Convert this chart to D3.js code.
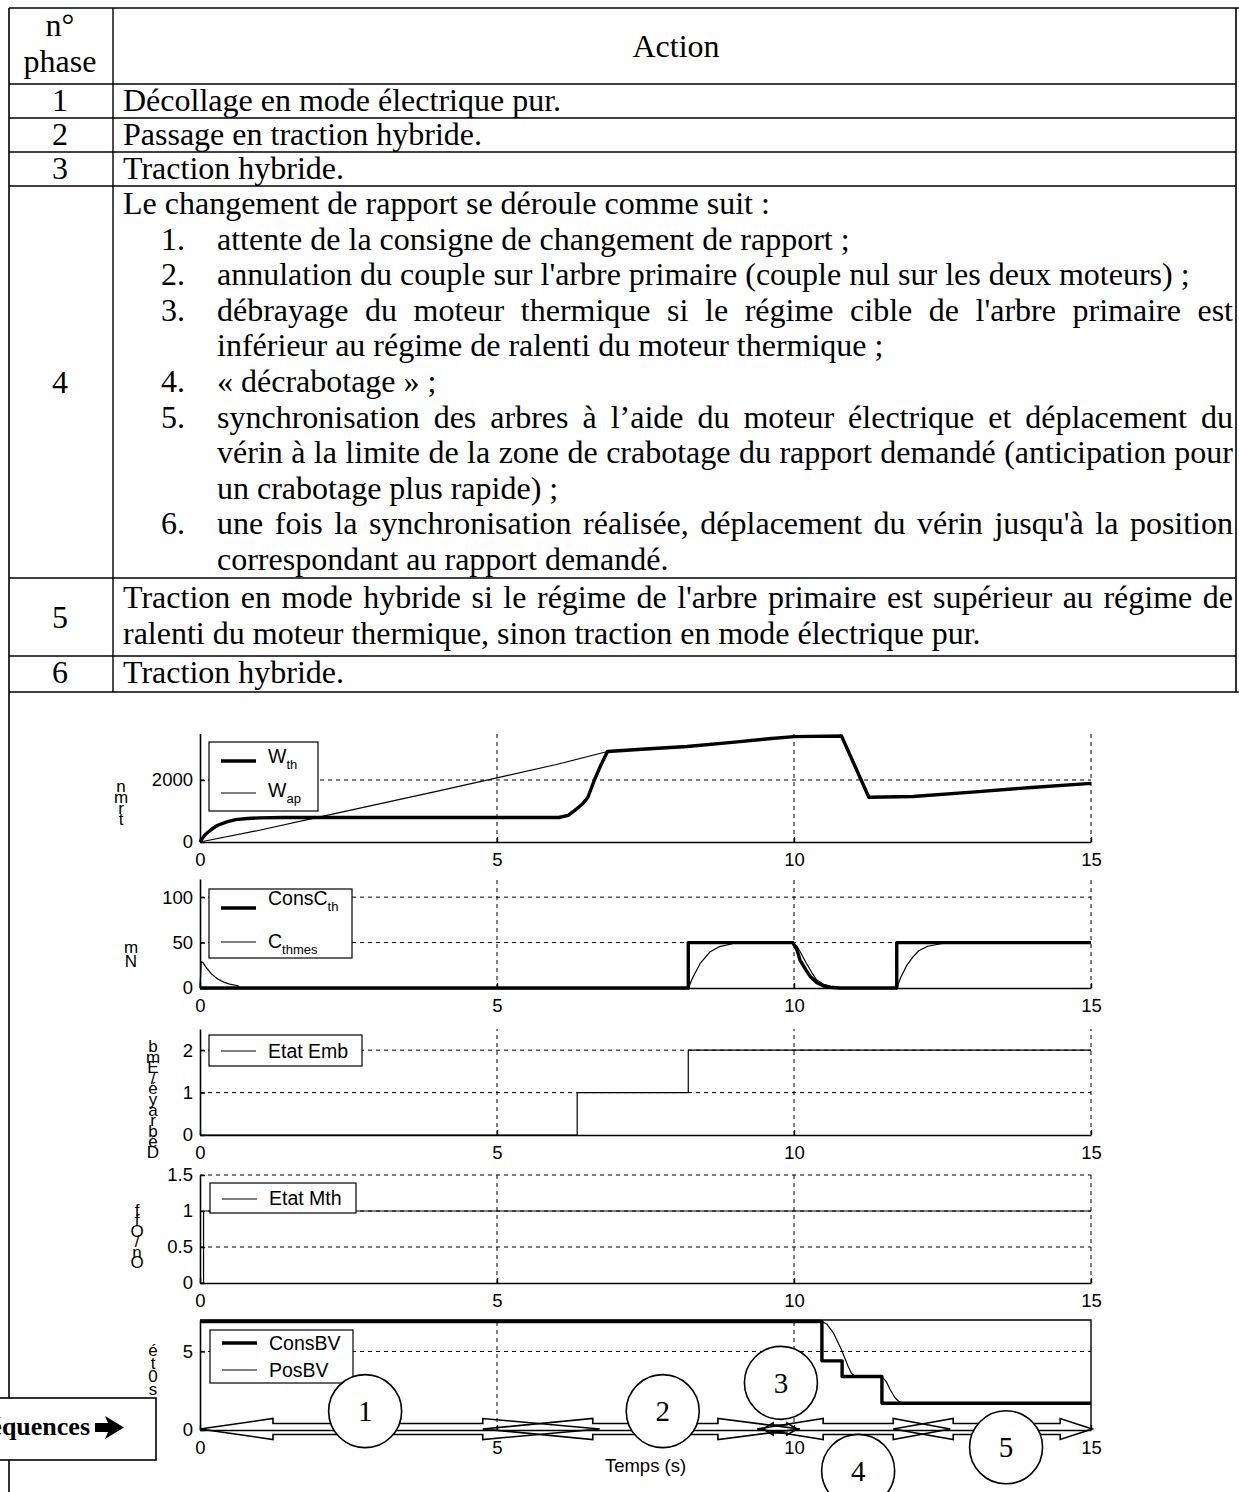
<!DOCTYPE html>
<html><head><meta charset="utf-8">
<script src="https://cdn.jsdelivr.net/npm/d3@7"></script>
<style>body{margin:0;background:#fff}svg{display:block}</style>
</head><body>
<svg id="c" width="1239" height="1492"></svg>
<script>
// ---------------- DATA ----------------
const headerPhase = ["n°", "phase"];
const headerAction = "Action";
const phaseNumbers = ["1", "2", "3", "4", "5", "6"];
const row1 = ["Décollage en mode électrique pur."];
const row2 = ["Passage en traction hybride."];
const row3 = ["Traction hybride."];
const row4Intro = "Le changement de rapport se déroule comme suit :";
const row4Items = [
  ["1.", "attente de la consigne de changement de rapport ;", false],
  ["2.", "annulation du couple sur l'arbre primaire (couple nul sur les deux moteurs) ;", false],
  ["3.", "débrayage du moteur thermique si le régime cible de l'arbre primaire est", true],
  ["", "inférieur au régime de ralenti du moteur thermique ;", false],
  ["4.", "« décrabotage » ;", false],
  ["5.", "synchronisation des arbres à l’aide du moteur électrique et déplacement du", true],
  ["", "vérin à la limite de la zone de crabotage du rapport demandé (anticipation pour", true],
  ["", "un crabotage plus rapide) ;", false],
  ["6.", "une fois la synchronisation réalisée, déplacement du vérin jusqu'à la position", true],
  ["", "correspondant au rapport demandé.", false]
];
const row5 = [
  ["Traction en mode hybride si le régime de l'arbre primaire est supérieur au régime de", true],
  ["ralenti du moteur thermique, sinon traction en mode électrique pur.", false]
];
const row6 = ["Traction hybride."];

const timeTicks = [0, 5, 10, 15];
const xLabel = "Temps (s)";

// Panel 1 : speeds
const W_th = [[0,0],[0.05,150],[0.1,260],[0.2,420],[0.3,540],[0.45,650],[0.6,720],[0.8,760],[1.0,778],[1.4,788],[2,790],[6.04,790],[6.2,860],[6.33,1050],[6.45,1250],[6.53,1444],[6.64,2000],[6.74,2444],[6.86,2920],[7.5,3000],[8.2,3080],[9,3220],[9.57,3330],[10,3400],[10.8,3420],[11.26,1444],[12,1467],[13,1610],[14,1760],[15,1890]];
const W_ap = [[0,0],[1,380],[2,800],[3,1220],[4,1640],[5,2070],[6,2500],[6.86,2920],[7.5,3000],[8.2,3080],[9,3220],[9.57,3330],[10,3400],[10.8,3420],[11.26,1444],[12,1467],[13,1610],[14,1760],[15,1890]];
const p1Ticks = [0, 2000];
const p1Legend = [["W","th"],["W","ap"]];

// Panel 2 : torques
const ConsC_th = [[0,0],[8.22,0],[8.22,50],[9.98,50],[10.05,42],[10.1,31],[10.2,20],[10.27,13],[10.38,6],[10.49,2.5],[10.6,0.8],[10.77,0],[11.73,0],[11.73,50],[15,50]];
const C_thmes = [[0,0],[0.02,29],[0.05,28],[0.1,23],[0.2,15],[0.3,10],[0.4,6.5],[0.5,4.2],[0.64,2.5],[0.66,0],[8.22,0],[8.3,12],[8.42,27],[8.59,40],[8.75,45.6],[8.98,49],[9.2,50],[9.98,50],[10.05,46],[10.12,38],[10.21,27],[10.3,17],[10.38,9],[10.5,4],[10.66,1],[10.8,0],[11.73,0],[11.8,12],[11.9,25],[12.0,34],[12.1,41],[12.25,46],[12.5,49],[12.8,50],[15,50]];
const p2Ticks = [0, 50, 100];
const p2Legend = [["ConsC","th"],["C","thmes"]];

// Panel 3 : clutch state
const EtatEmb = [[0,0],[6.35,0],[6.35,1],[8.22,1],[8.22,2],[15,2]];
const p3Ticks = [0, 1, 2];
const p3Legend = [["Etat Emb",""]];

// Panel 4 : engine state
const EtatMth = [[0,0],[0.06,0],[0.06,1],[15,1]];
const p4Ticks = [0, 0.5, 1, 1.5];
const p4Legend = [["Etat Mth",""]];

// Panel 5 : gearbox
const ConsBV = [[0,6.9],[10.47,6.9],[10.47,4.4],[10.81,4.4],[10.81,3.4],[11.48,3.4],[11.48,1.7],[15,1.7]];
const PosBV = [[0,6.9],[10.47,6.9],[10.55,6.75],[10.66,6.2],[10.8,5.1],[10.91,4.06],[10.97,3.6],[11.02,3.42],[11.48,3.4],[11.55,3.1],[11.62,2.56],[11.7,2.05],[11.76,1.83],[11.81,1.74],[11.9,1.7],[15,1.7]];
const p5Ticks = [0, 5];
const p5Legend = [["ConsBV",""],["PosBV",""]];

// garbled (rotated) y labels, glyphs top -> bottom
const yLabelGlyphs = [
  ["n","m","r","t"],
  ["m","N"],
  ["b","m","E","/","é","y","a","r","b","é","D"],
  ["f","f","O","/","n","O"],
  ["é","t","0","s"]
];

// sequence phases
const seqLabels = ["1","2","3","4","5"];
const seqSpans = [[0,6.73],[4.76,10.1],[9.48,10.05],[9.38,12.63],[11.67,15.02]];
const seqCircleAt = [[2.78,1.2],[7.79,1.2],[9.78,3.0],[11.08,-2.6],[13.57,-1.1]];
const seqBoxLabel = "Séquences";

// ---------------- DRAW ----------------
const svg = d3.select("#c");
const serif = "'Liberation Serif','Times New Roman',serif";
const sans = "'Liberation Sans',Arial,sans-serif";

// ---- table ----
const tbl = svg.append("g").attr("font-family", serif).attr("font-size", 32).attr("fill", "#000");
const L = 9, R = 1236, colDiv = 113, tx = 123, tRight = 1233;
const rowLines = [8, 84, 118, 152, 186, 578, 656, 692];
rowLines.forEach(y => tbl.append("line").attr("x1", L).attr("x2", y === 692 || y === 8 ? 1239 : R)
  .attr("y1", y).attr("y2", y).attr("stroke", "#000").attr("stroke-width", 1.6));
tbl.append("line").attr("x1", L).attr("x2", L).attr("y1", 8).attr("y2", 1492).attr("stroke", "#000").attr("stroke-width", 1.6);
tbl.append("line").attr("x1", colDiv).attr("x2", colDiv).attr("y1", 8).attr("y2", 692).attr("stroke", "#000").attr("stroke-width", 1.4);
tbl.append("line").attr("x1", R).attr("x2", R).attr("y1", 8).attr("y2", 692).attr("stroke", "#000").attr("stroke-width", 1.6);

function txt(g, s, x, y, anchor) {
  return g.append("text").attr("x", x).attr("y", y).attr("text-anchor", anchor || "start").text(s);
}
function justified(g, s, x0, x1, y) {
  const words = s.split(" ");
  const t = g.append("text").attr("y", y);
  const spans = words.map(w => t.append("tspan").text(w));
  const w = spans.map(sp => sp.node().getComputedTextLength());
  const gap = (x1 - x0 - d3.sum(w)) / (words.length - 1);
  let x = x0;
  spans.forEach((sp, i) => { sp.attr("x", x); x += w[i] + gap; });
}

txt(tbl, headerPhase[0], 60, 36, "middle");
txt(tbl, headerPhase[1], 60, 72, "middle");
txt(tbl, headerAction, 676, 57, "middle");

const numY = [111, 145, 179, 393, 628, 683];
phaseNumbers.forEach((n, i) => txt(tbl, n, 60, numY[i], "middle"));
txt(tbl, row1[0], tx, 111);
txt(tbl, row2[0], tx, 145);
txt(tbl, row3[0], tx, 179);

const r4Y = d3.range(11).map(k => 214 + k * 35.6);
txt(tbl, row4Intro, tx, r4Y[0]);
row4Items.forEach((it, i) => {
  const y = r4Y[i + 1];
  if (it[0]) txt(tbl, it[0], 161, y);
  if (it[2]) justified(tbl, it[1], 217, tRight, y); else txt(tbl, it[1], 217, y);
});
const r5Y = [608, 644];
row5.forEach((it, i) => { if (it[1]) justified(tbl, it[0], tx, tRight, r5Y[i]); else txt(tbl, it[0], tx, r5Y[i]); });
txt(tbl, row6[0], tx, 683);

// ---- plots ----
const x = d3.scaleLinear().domain([0, 15]).range([200, 1091]);
const panels = [
  {bottom: 842, top: 733.5, dom: [0, 3500], ticks: p1Ticks, series: [[W_ap, false], [W_th, true]],
   legend: p1Legend, lbox: [209, 742, 109, 69], lrows: [[761, 763], [793, 797]], thickRow: [true, false],
   yl: {x: 121, y0: 792, step: 11}},
  {bottom: 988, top: 879, dom: [0, 120], ticks: p2Ticks, series: [[C_thmes, false], [ConsC_th, true]],
   legend: p2Legend, lbox: [209, 889, 143, 69], lrows: [[908, 905], [942, 948]], thickRow: [true, false],
   yl: {x: 131, y0: 953, step: 14}},
  {bottom: 1135, top: 1029, dom: [0, 2.5], ticks: p3Ticks, series: [[EtatEmb, false]],
   legend: p3Legend, lbox: [209, 1035, 153, 31], lrows: [[1051, 1058]], thickRow: [false],
   yl: {x: 153, y0: 1052, step: 10.6}},
  {bottom: 1283, top: 1175, dom: [0, 1.5], ticks: p4Ticks, series: [[EtatMth, false]],
   legend: p4Legend, lbox: [210, 1183, 146, 30], lrows: [[1199, 1205]], thickRow: [false],
   yl: {x: 137, y0: 1216, step: 10.4}},
  {bottom: 1430, top: 1320, dom: [0, 7], ticks: p5Ticks, series: [[PosBV, false], [ConsBV, true]], box: true,
   legend: p5Legend, lbox: [210, 1330, 143, 53], lrows: [[1343, 1350], [1370, 1377]], thickRow: [true, false],
   yl: {x: 153, y0: 1356, step: 13}}
];

const P = svg.append("g").attr("font-family", sans);
let y5;
panels.forEach((p, pi) => {
  const g = P.append("g");
  const y = d3.scaleLinear().domain(p.dom).range([p.bottom, p.top]);
  if (pi === 4) y5 = y;
  timeTicks.filter(t => t > 0 && !(p.box && t === 15)).forEach(t =>
    g.append("line").attr("x1", x(t)).attr("x2", x(t)).attr("y1", p.bottom).attr("y2", p.top)
      .attr("stroke", "#000").attr("stroke-width", 1).attr("stroke-dasharray", "4,4"));
  p.ticks.filter(v => v > 0).forEach(v =>
    g.append("line").attr("x1", x(0)).attr("x2", x(15)).attr("y1", y(v)).attr("y2", y(v))
      .attr("stroke", "#000").attr("stroke-width", 1).attr("stroke-dasharray", "4,4"));
  if (p.box) {
    g.append("path").attr("d", `M${x(0)},${p.top}H${x(15)}V${p.bottom}`).attr("fill", "none").attr("stroke", "#000").attr("stroke-width", 1.4);
  }
  const ax = g.append("g").attr("transform", `translate(0,${p.bottom})`)
    .call(d3.axisBottom(x).tickValues(timeTicks).tickSizeInner(-5).tickSizeOuter(0).tickPadding(11));
  const ay = g.append("g").attr("transform", `translate(${x(0)},0)`)
    .call(d3.axisLeft(y).tickValues(p.ticks).tickSizeInner(-5).tickSizeOuter(0).tickPadding(7).tickFormat(d => String(d)));
  [ax, ay].forEach(a => {
    a.attr("font-family", sans).attr("font-size", 18.5);
    a.select(".domain").attr("stroke-width", 1.6);
    a.selectAll(".tick line").attr("stroke-width", 1.4);
  });
  const line = d3.line().x(d => x(d[0])).y(d => y(d[1]));
  p.series.forEach(([data, thick]) =>
    g.append("path").datum(data).attr("d", line).attr("fill", "none").attr("stroke", "#000")
      .attr("stroke-width", thick ? 3.4 : 1.2).attr("stroke-linejoin", "round"));
  const [bx, by, bw, bh] = p.lbox;
  g.append("rect").attr("x", bx).attr("y", by).attr("width", bw).attr("height", bh)
    .attr("fill", "#fff").attr("stroke", "#000").attr("stroke-width", 1.2);
  p.legend.forEach((item, i) => {
    const [ly, ty] = p.lrows[i];
    g.append("line").attr("x1", bx + 12).attr("x2", bx + 47).attr("y1", ly).attr("y2", ly)
      .attr("stroke", "#000").attr("stroke-width", p.thickRow[i] ? 3.4 : 1.2);
    const t = g.append("text").attr("x", bx + 59).attr("y", ty).attr("font-size", 19.5).text(item[0]);
    if (item[1]) t.append("tspan").attr("dy", 6).attr("font-size", 13).text(item[1]);
  });
  // garbled y label : one text, glyphs stacked
  const yt = g.append("text").attr("text-anchor", "middle").attr("font-size", 17);
  yLabelGlyphs[pi].forEach((c, k) => {
    yt.append("tspan").attr("x", p.yl.x).attr("y", p.yl.y0 + k * p.yl.step).text(c);
  });
});

P.append("text").attr("x", (x(0) + x(15)) / 2).attr("y", 1472).attr("text-anchor", "middle")
  .attr("font-size", 18.5).text(xLabel);

// sequence arrows
const arrowHeads = [[73, 117], [110, 82], [10, 10], [66, 57], [60, 32]];
const seqG = svg.append("g");
const ay0 = y5(0) - 1;
seqSpans.forEach((s, i) => {
  const x0 = x(s[0]), x1 = x(s[1]);
  const [hl, hr] = arrowHeads[i];
  const hh = i === 2 ? 6 : 10.5, sh = i === 2 ? 4 : 5.5;
  const pts = [[x0, ay0], [x0 + hl, ay0 - hh], [x0 + hl, ay0 - sh], [x1 - hr, ay0 - sh], [x1 - hr, ay0 - hh], [x1, ay0],
    [x1 - hr, ay0 + hh], [x1 - hr, ay0 + sh], [x0 + hl, ay0 + sh], [x0 + hl, ay0 + hh]];
  seqG.append("path").attr("d", "M" + pts.map(p => p.join(",")).join("L") + "Z")
    .attr("fill", "none").attr("stroke", "#000").attr("stroke-width", 1.6).attr("stroke-linejoin", "miter");
});
seqLabels.forEach((lab, i) => {
  const cx = x(seqCircleAt[i][0]), cy = y5(seqCircleAt[i][1]);
  seqG.append("circle").attr("cx", cx).attr("cy", cy).attr("r", 36.5)
    .attr("fill", "#fff").attr("stroke", "#000").attr("stroke-width", 1.6);
  seqG.append("text").attr("x", cx).attr("y", cy + 10).attr("text-anchor", "middle")
    .attr("font-family", serif).attr("font-size", 29).text(lab);
});

// "Séquences" box
const sb = svg.append("g");
sb.append("rect").attr("x", -10).attr("y", 1398).attr("width", 166).attr("height", 62)
  .attr("fill", "#fff").attr("stroke", "#000").attr("stroke-width", 1.6);
sb.append("text").attr("x", 90).attr("y", 1435).attr("text-anchor", "end")
  .attr("font-family", serif).attr("font-weight", "bold").attr("font-size", 26).text(seqBoxLabel);
sb.append("path").attr("d", "M95,1423L108,1423L105,1416L124,1427.5L105,1439L108,1432L95,1432Z").attr("fill", "#000");
</script>
</body></html>
